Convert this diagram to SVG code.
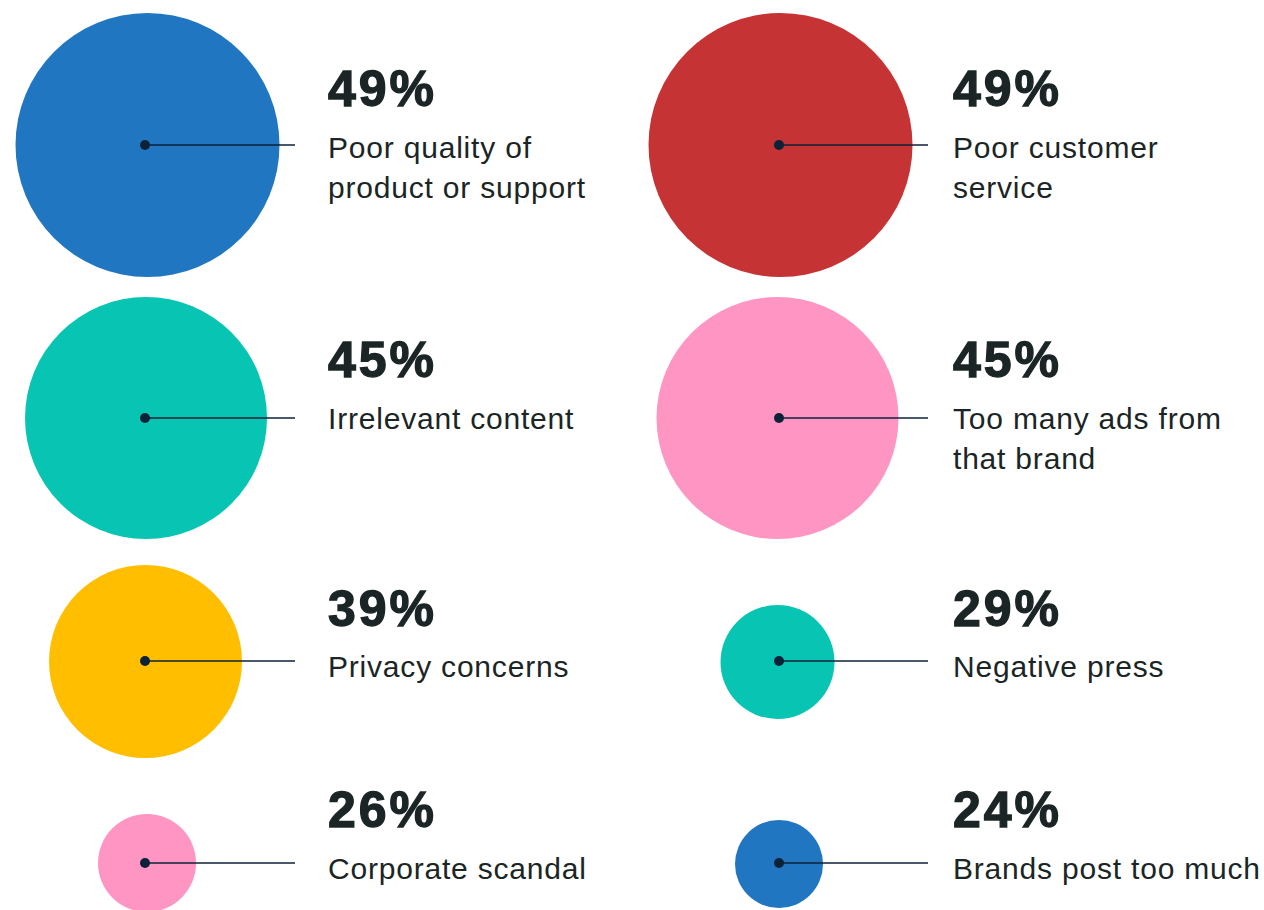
<svg xmlns="http://www.w3.org/2000/svg" width="1264" height="910" viewBox="0 0 1264 910">
<style>
.pct{font-family:"Liberation Sans",Arial,sans-serif;font-weight:bold;font-size:50px;fill:#1B2526;stroke:#1B2526;stroke-width:1.3px;letter-spacing:3px}
.lbl{font-family:"Liberation Sans",Arial,sans-serif;font-size:30px;fill:#1B2526;letter-spacing:0.8px}
.ln{stroke:#0E2237;stroke-width:1.6;fill:none}
.dot{fill:#0B2238}
</style>
<rect width="1264" height="910" fill="#FFFFFF"/>
<g id="node-poor-quality">
<circle cx="147.5" cy="145" r="132" fill="#2176C1"/>
<text class="pct" x="328" y="106">49%</text>
<text class="lbl" x="328" y="158">Poor quality of</text>
<text class="lbl" x="328" y="198">product or support</text>
</g>
<g id="node-poor-service">
<circle cx="780.5" cy="145" r="132" fill="#C53334"/>
<text class="pct" x="953" y="106">49%</text>
<text class="lbl" x="953" y="158">Poor customer</text>
<text class="lbl" x="953" y="198">service</text>
</g>
<g id="node-irrelevant">
<circle cx="146" cy="418" r="121" fill="#08C4B2"/>
<text class="pct" x="328" y="377">45%</text>
<text class="lbl" x="328" y="429">Irrelevant content</text>
</g>
<g id="node-too-many-ads">
<circle cx="777.5" cy="418" r="121" fill="#FF95C3"/>
<text class="pct" x="953" y="377">45%</text>
<text class="lbl" x="953" y="429">Too many ads from</text>
<text class="lbl" x="953" y="469">that brand</text>
</g>
<g id="node-privacy">
<circle cx="145.5" cy="661.5" r="96.5" fill="#FFBE00"/>
<text class="pct" x="328" y="626">39%</text>
<text class="lbl" x="328" y="677">Privacy concerns</text>
</g>
<g id="node-negative-press">
<circle cx="777.5" cy="662" r="57" fill="#08C4B2"/>
<text class="pct" x="953" y="626">29%</text>
<text class="lbl" x="953" y="677">Negative press</text>
</g>
<g id="node-scandal">
<circle cx="147" cy="863" r="49" fill="#FF95C3"/>
<text class="pct" x="328" y="827">26%</text>
<text class="lbl" x="328" y="879">Corporate scandal</text>
</g>
<g id="node-post-too-much">
<circle cx="779" cy="864" r="44" fill="#2176C1"/>
<text class="pct" x="953" y="827">24%</text>
<text class="lbl" x="953" y="879">Brands post too much</text>
</g>
<g id="connectors">
<line class="ln" x1="145" y1="145" x2="295" y2="145"/><circle class="dot" cx="145" cy="145" r="5"/>
<line class="ln" x1="779" y1="145" x2="928" y2="145"/><circle class="dot" cx="779" cy="145" r="5"/>
<line class="ln" x1="145" y1="418" x2="295" y2="418"/><circle class="dot" cx="145" cy="418" r="5"/>
<line class="ln" x1="779" y1="418" x2="928" y2="418"/><circle class="dot" cx="779" cy="418" r="5"/>
<line class="ln" x1="145" y1="661" x2="295" y2="661"/><circle class="dot" cx="145" cy="661" r="5"/>
<line class="ln" x1="779" y1="661" x2="928" y2="661"/><circle class="dot" cx="779" cy="661" r="5"/>
<line class="ln" x1="145" y1="863" x2="295" y2="863"/><circle class="dot" cx="145" cy="863" r="5"/>
<line class="ln" x1="779" y1="863" x2="928" y2="863"/><circle class="dot" cx="779" cy="863" r="5"/>
</g>
</svg>
